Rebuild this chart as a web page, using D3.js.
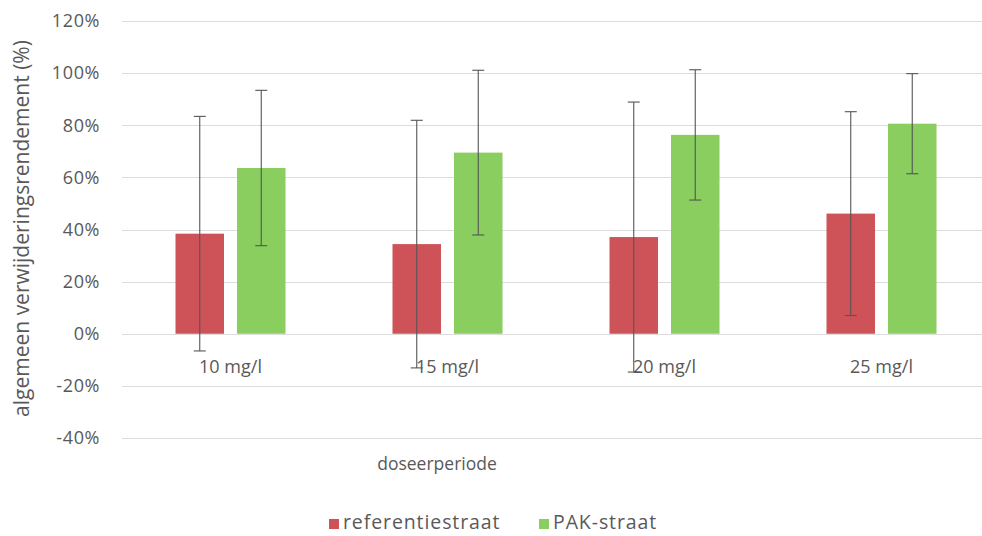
<!DOCTYPE html>
<html>
<head>
<meta charset="utf-8">
<script src="https://cdn.jsdelivr.net/npm/d3@7"></script>
<style>
  html, body { margin: 0; padding: 0; background: #fff; }
  svg { display: block; }
  text { font-family: "Open Sans", "Liberation Sans", sans-serif; fill: #595959; }
</style>
</head>
<body>
<svg id="chart" width="982" height="536"></svg>
<script>
// ---- data ----
const categories = ["10 mg/l", "15 mg/l", "20 mg/l", "25 mg/l"];
const seriesNames = ["referentiestraat", "PAK-straat"];
const referentieValues = [38.4, 34.4, 37.1, 46.1];
const referentieErrors = [45.0, 47.5, 51.8, 39.1];
const pakValues = [63.6, 69.5, 76.3, 80.6];
const pakErrors = [29.8, 31.6, 25.0, 19.2];
const yTicks = [-40, -20, 0, 20, 40, 60, 80, 100, 120];
const yTitle = "algemeen verwijderingsrendement (%)";
const xTitle = "doseerperiode";

const colors = ["#CE5359", "#89CE5E"];

const svg = d3.select("#chart");
const W = 982, H = 536;
const plotLeft = 122, plotRight = 990, plotTop = 21, plotBottom = 438;

const x = d3.scaleBand().domain(categories).range([plotLeft, plotRight]).padding(0);
const y = d3.scaleLinear().domain([-40, 120]).range([plotBottom, plotTop]);

const barW = 48.5, gap = 13;
const groupW = barW * 2 + gap;

// gridlines
svg.append("g").selectAll("line").data(yTicks).join("line")
  .attr("x1", plotLeft).attr("x2", W)
  .attr("y1", d => Math.round(y(d)) + 0.5).attr("y2", d => Math.round(y(d)) + 0.5)
  .attr("stroke", "#dcdcdc").attr("stroke-width", 1);

// y axis labels
const yAxis = d3.axisLeft(y).tickValues(yTicks).tickFormat(d => d + "%").tickSize(0).tickPadding(0);
const yg = svg.append("g").attr("transform", `translate(100,0)`).call(yAxis);
yg.select(".domain").remove();
yg.selectAll("text").attr("font-size", 18).attr("fill", "#595959")
  .style("font-family", '"Open Sans", sans-serif').attr("letter-spacing", 0.6);

// data table
const series = [
  { name: seriesNames[0], values: referentieValues, errors: referentieErrors, color: colors[0], idx: 0 },
  { name: seriesNames[1], values: pakValues, errors: pakErrors, color: colors[1], idx: 1 }
];
const bars = [];
series.forEach(s => categories.forEach((c, i) => bars.push({
  cat: c, v: s.values[i], e: s.errors[i], color: s.color, idx: s.idx
})));
const bx = d => x(d.cat) + x.bandwidth() / 2 - groupW / 2 + d.idx * (barW + gap);

svg.append("g").selectAll("rect").data(bars).join("rect")
  .attr("x", d => bx(d)).attr("width", barW)
  .attr("y", d => y(Math.max(0, d.v))).attr("height", d => Math.abs(y(d.v) - y(0)))
  .attr("fill", d => d.color);

// x labels
svg.append("g").selectAll("text").data(categories).join("text")
  .attr("x", d => x(d) + x.bandwidth() / 2).attr("y", 373)
  .attr("text-anchor", "middle").attr("font-size", 18).text(d => d);

// error bars
const eg = svg.append("g").attr("stroke", "#555").attr("stroke-width", 1.1);
bars.forEach(d => {
  const cx = bx(d) + barW / 2;
  eg.append("line").attr("x1", cx).attr("x2", cx).attr("y1", y(d.v + d.e)).attr("y2", y(d.v - d.e));
  [d.v + d.e, d.v - d.e].forEach(v => {
    eg.append("line").attr("x1", cx - 6).attr("x2", cx + 6).attr("y1", y(v)).attr("y2", y(v));
  });
});

// axis titles
svg.append("text").attr("transform", `translate(29,${(plotTop + plotBottom) / 2 - 1}) rotate(-90)`)
  .attr("text-anchor", "middle").attr("font-size", 21).text(yTitle);
svg.append("text").attr("x", 437).attr("y", 470).attr("text-anchor", "middle")
  .attr("font-size", 17.5).text(xTitle);

// legend
const legend = [
  { name: seriesNames[0], color: colors[0], x: 329 },
  { name: seriesNames[1], color: colors[1], x: 539 }
];
const lg = svg.append("g");
legend.forEach(l => {
  lg.append("rect").attr("x", l.x).attr("y", 519).attr("width", 10).attr("height", 10).attr("fill", l.color);
  lg.append("text").attr("x", l.x + 14).attr("y", 529).attr("font-size", 19.5)
    .attr("letter-spacing", 0.9).text(l.name);
});
</script>
</body>
</html>
